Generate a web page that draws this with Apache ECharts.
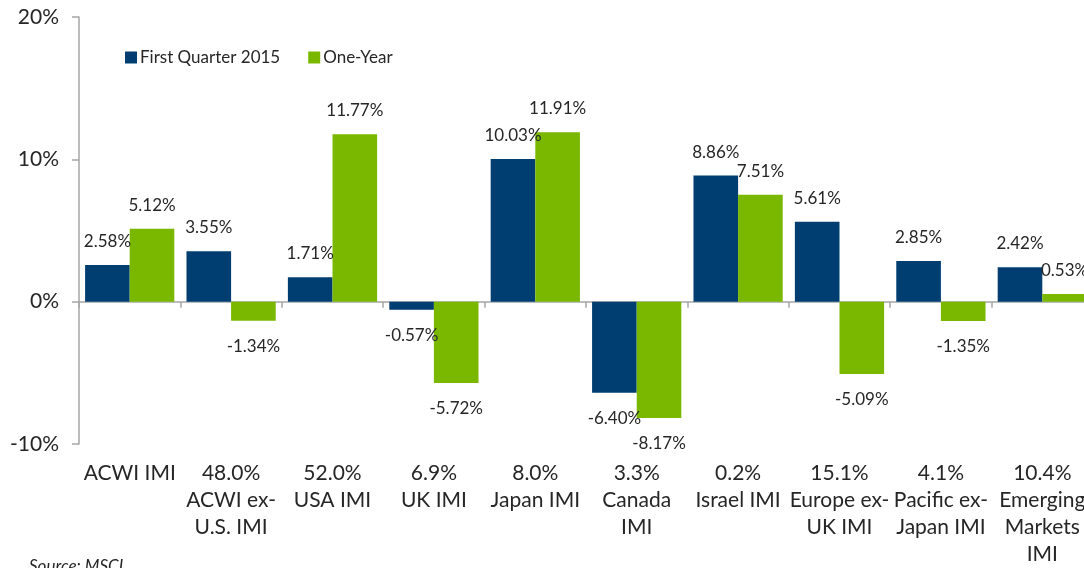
<!DOCTYPE html>
<html>
<head>
<meta charset="utf-8">
<script src="https://cdn.jsdelivr.net/npm/echarts@6/dist/echarts.min.js"></script>
<style>
  html, body { margin: 0; padding: 0; background: #fff; overflow: hidden; }
  /* a bit wider than the window: the original is cropped on the right */
  #main { width: 1100px; height: 568px; }
</style>
</head>
<body>
<div id="main"></div>
<script>
const categories = [
    'ACWI IMI',
    '48.0%\nACWI ex-\nU.S. IMI',
    '52.0%\nUSA IMI',
    '6.9%\nUK IMI',
    '8.0%\nJapan IMI',
    '3.3%\nCanada\nIMI',
    '0.2%\nIsrael IMI',
    '15.1%\nEurope ex-\nUK IMI',
    '4.1%\nPacific ex-\nJapan IMI',
    '10.4%\nEmerging\nMarkets\nIMI'
]
const seriesNames = ['First Quarter 2015', 'One-Year']
const quarterValues = [2.58, 3.55, 1.71, -0.57, 10.03, -6.40, 8.86, 5.61, 2.85, 2.42]
const oneYearValues = [5.12, -1.34, 11.77, -5.72, 11.91, -8.17, 7.51, -5.09, -1.35, 0.53]
const yTicks = [-10, 0, 10, 20]

const FONT = 'Lato'
const TEXT = '#262626'
const AXIS = '#a6a6a6'

// labels sit above positive bars, below negative ones
function withLabels(values) {
    return values.map(v => ({
        value: v,
        label: {
            position: v < 0 ? 'bottom' : 'top',
            distance: v < 0 ? 17 : 15
        }
    }))
}

function barSeries(name, values, color) {
    return {
        name: name,
        type: 'bar',
        barGap: 0,
        barCategoryGap: '12%',
        itemStyle: { color: color },
        label: {
            show: true,
            color: TEXT,
            fontFamily: FONT,
            fontSize: 17,
            formatter: p => p.value.toFixed(2) + '%'
        },
        data: withLabels(values)
    }
}

const chart = echarts.init(document.getElementById('main'))

const option = {
    animation: false,
    textStyle: { fontFamily: FONT, color: TEXT },
    grid: {
        left: 79,
        right: 7,
        top: 17,
        bottom: 123,
        containLabel: false
    },
    legend: {
        left: 120,
        top: 44,
        itemWidth: 12,
        itemHeight: 12,
        itemGap: 28,
        icon: 'rect',
        textStyle: { fontFamily: FONT, fontSize: 17, color: TEXT, padding: [0, 0, 0, -2] },
        data: seriesNames
    },
    xAxis: [{
        // labels along the bottom
        type: 'category',
        position: 'bottom',
        data: categories,
        axisLine: { show: false, onZero: false },
        axisTick: { show: false },
        axisLabel: {
            interval: 0,
            margin: 16,
            fontFamily: FONT,
            fontSize: 21,
            lineHeight: 27,
            color: TEXT
        }
    }, {
        // zero line with category ticks
        type: 'category',
        position: 'bottom',
        data: categories,
        axisLine: { show: true, onZero: true, lineStyle: { color: AXIS, width: 1.5 } },
        axisTick: { show: true, length: 6, lineStyle: { color: AXIS, width: 1.5 } },
        axisLabel: { show: false }
    }],
    yAxis: {
        type: 'value',
        min: yTicks[0],
        max: yTicks[yTicks.length - 1],
        interval: yTicks[1] - yTicks[0],
        axisLine: { show: true, lineStyle: { color: AXIS, width: 1.5 } },
        axisTick: { show: true, length: 7, lineStyle: { color: AXIS, width: 1.5 } },
        splitLine: { show: false },
        axisLabel: {
            margin: 20,
            fontFamily: FONT,
            fontSize: 21,
            color: TEXT,
            formatter: '{value}%'
        }
    },
    series: [
        barSeries(seriesNames[0], quarterValues, '#003e72'),
        barSeries(seriesNames[1], oneYearValues, '#7ab800')
    ],
    graphic: [{
        type: 'text',
        left: 29,
        top: 558,
        style: {
            text: 'Source: MSCI',
            fontFamily: FONT,
            fontStyle: 'italic',
            fontSize: 17,
            fill: TEXT
        }
    }]
}

chart.setOption(option)
</script>
</body>
</html>
